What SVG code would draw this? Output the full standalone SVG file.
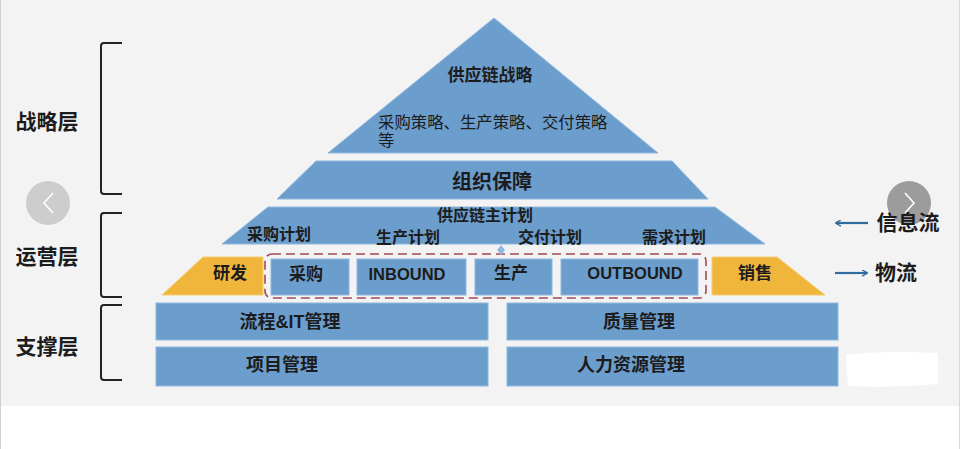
<svg xmlns="http://www.w3.org/2000/svg" width="960" height="449" viewBox="0 0 960 449">
  <defs>
    <style>
      .blue { fill: #6c9ecd; stroke: #8fb8df; stroke-width: 1; }
      .yellow { fill: #f0b63c; stroke: #f5cd74; stroke-width: 1; }
      .t { font-family: "Liberation Sans", "Noto Sans CJK SC", sans-serif; fill: #1c1c1c; dominant-baseline: central; text-anchor: middle; }
      .b { font-weight: bold; }
      .br { fill: none; stroke: #222; stroke-width: 2; stroke-linejoin: round; }
      .arr { stroke: #2f6b9c; stroke-width: 2.2; fill: none; }
    </style>
    <marker id="ah" viewBox="0 0 10 10" refX="8" refY="5" markerWidth="7" markerHeight="7" orient="auto-start-reverse" markerUnits="userSpaceOnUse">
      <path d="M1,0.5 L9,5 L1,9.5" fill="none" stroke="#2f6b9c" stroke-width="1.8"/>
    </marker>
  </defs>

  <!-- background -->
  <rect x="0" y="0" width="960" height="449" fill="#ffffff"/>
  <rect x="0" y="0" width="960" height="406" fill="#f3f3f4"/>
  <line x1="0.5" y1="0" x2="0.5" y2="449" stroke="#d0d0d0" stroke-width="1"/>
  <line x1="959.5" y1="0" x2="959.5" y2="449" stroke="#d8d8d8" stroke-width="1"/>

  <!-- carousel buttons -->
  <g id="prev-button">
    <circle cx="48" cy="203" r="22" fill="#c9c9c9" opacity="0.9"/>
    <path d="M53,193 L44,203 L53,213" fill="none" stroke="#ffffff" stroke-width="1.6"/>
  </g>
  <g id="next-button">
    <circle cx="909" cy="203" r="22" fill="#8c8c8c" opacity="0.85"/>
    <path d="M905,193 L914,203 L905,213" fill="none" stroke="#ffffff" stroke-width="1.6"/>
  </g>

  <!-- Layer labels and brackets -->
  <g id="layer-strategy">
    <path class="br" d="M122,43 L104,43 Q101,43 101,46 L101,191 Q101,194 104,194 L122,194"/>
    <text class="t b" x="47" y="121" font-size="21">战略层</text>
  </g>
  <g id="layer-operation">
    <path class="br" d="M122,213 L104,213 Q101,213 101,216 L101,294 Q101,297 104,297 L122,297"/>
    <text class="t b" x="47" y="256" font-size="21">运营层</text>
  </g>
  <g id="layer-support">
    <path class="br" d="M122,305 L104,305 Q101,305 101,308 L101,377 Q101,380 104,380 L122,380"/>
    <text class="t b" x="47" y="346" font-size="21">支撑层</text>
  </g>

  <!-- Pyramid -->
  <g id="strategy">
    <polygon class="blue" points="494,18 658,153 328,153"/>
    <text class="t b" x="490" y="75" font-size="17">供应链战略</text>
    <text class="t" x="378" y="122" font-size="16.4" style="text-anchor:start">采购策略、生产策略、交付策略</text>
    <text class="t" x="378" y="140" font-size="16.4" style="text-anchor:start">等</text>
  </g>
  <g id="org">
    <polygon class="blue" points="316,161 672,161 708,199 277,199"/>
    <text class="t b" x="492" y="182" font-size="20">组织保障</text>
  </g>
  <g id="master-plan">
    <polygon class="blue" points="268,207 715,207 765,244 222,244"/>
    <text class="t b" x="485" y="215" font-size="16">供应链主计划</text>
    <text class="t b" x="279" y="234" font-size="16">采购计划</text>
    <text class="t b" x="408" y="237" font-size="16">生产计划</text>
    <text class="t b" x="550" y="237" font-size="16">交付计划</text>
    <text class="t b" x="674" y="237" font-size="16">需求计划</text>
  </g>

  <!-- Operation row -->
  <g id="rd">
    <polygon class="yellow" points="203,257 263,257 263,295 162,295"/>
    <text class="t b" x="230" y="273" font-size="17">研发</text>
  </g>
  <g id="flow-frame">
    <rect x="265" y="254" width="441" height="44" rx="7" fill="none" stroke="#a24a52" stroke-width="1.6" stroke-dasharray="9,5"/>
    <polygon points="501,245 505,250 501,255 497,250" fill="#8fb8df"/>
  </g>
  <g id="purchase">
    <rect class="blue" x="271" y="259" width="78" height="36"/>
    <text class="t b" x="306" y="274" font-size="17">采购</text>
  </g>
  <g id="inbound">
    <rect class="blue" x="357" y="259" width="109" height="36"/>
    <text class="t b" x="407" y="274" font-size="16.5">INBOUND</text>
  </g>
  <g id="production">
    <rect class="blue" x="475" y="259" width="77" height="36"/>
    <text class="t b" x="511" y="273" font-size="17">生产</text>
  </g>
  <g id="outbound">
    <rect class="blue" x="561" y="259" width="137" height="36"/>
    <text class="t b" x="635" y="273" font-size="16.5">OUTBOUND</text>
  </g>
  <g id="sales">
    <polygon class="yellow" points="712,257 777,257 825,295 712,295"/>
    <text class="t b" x="755" y="273" font-size="17">销售</text>
  </g>

  <!-- Support row -->
  <g id="process-it">
    <rect class="blue" x="156" y="303" width="332" height="37"/>
    <text class="t b" x="290" y="322" font-size="18">流程&amp;IT管理</text>
  </g>
  <g id="quality">
    <rect class="blue" x="507" y="303" width="331" height="37"/>
    <text class="t b" x="639" y="322" font-size="18">质量管理</text>
  </g>
  <g id="project">
    <rect class="blue" x="156" y="347" width="332" height="39"/>
    <text class="t b" x="282" y="365" font-size="18">项目管理</text>
  </g>
  <g id="hr">
    <rect class="blue" x="507" y="347" width="331" height="39"/>
    <text class="t b" x="631" y="365" font-size="18">人力资源管理</text>
  </g>

  <!-- white patch -->
  <path d="M846,355 Q880,350 938,353 L938,384 Q895,388 848,386 Z" fill="#ffffff"/>

  <!-- Legend arrows -->
  <g id="connectors">
    <line class="arr" x1="868" y1="223" x2="836" y2="223" marker-end="url(#ah)"/>
    <line class="arr" x1="835" y1="273" x2="867" y2="273" marker-end="url(#ah)"/>
  </g>
  <g id="legend-info">
    <text class="t b" x="908" y="222" font-size="21">信息流</text>
  </g>
  <g id="legend-material">
    <text class="t b" x="896" y="272" font-size="21">物流</text>
  </g>
</svg>
